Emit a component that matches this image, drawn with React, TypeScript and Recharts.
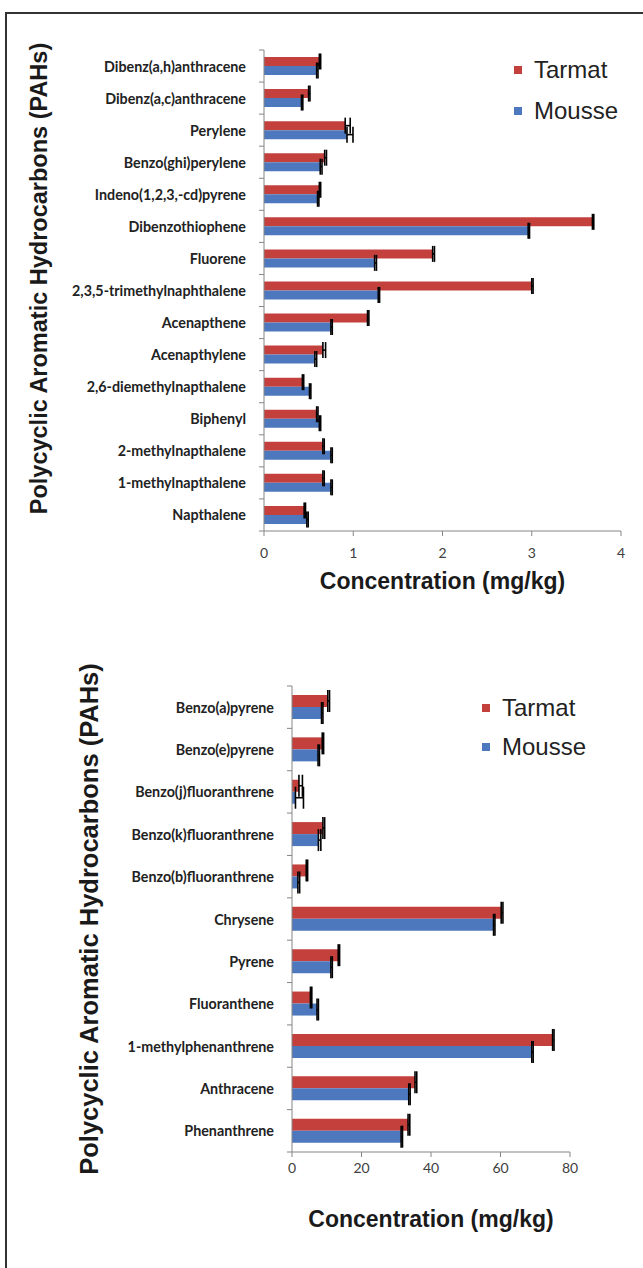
import { Bar, BarChart, ErrorBar, Label, Legend, XAxis, YAxis } from "recharts"

// upper panel, listed top to bottom
const topCategories = [
  "Dibenz(a,h)anthracene",
  "Dibenz(a,c)anthracene",
  "Perylene",
  "Benzo(ghi)perylene",
  "Indeno(1,2,3,-cd)pyrene",
  "Dibenzothiophene",
  "Fluorene",
  "2,3,5-trimethylnaphthalene",
  "Acenapthene",
  "Acenapthylene",
  "2,6-diemethylnapthalene",
  "Biphenyl",
  "2-methylnapthalene",
  "1-methylnapthalene",
  "Napthalene",
]
const topTarmat = [0.62, 0.5, 0.91, 0.68, 0.62, 3.68, 1.89, 3.0, 1.16, 0.66, 0.43, 0.59, 0.66, 0.66, 0.45]
const topMousse = [0.59, 0.42, 0.93, 0.63, 0.6, 2.96, 1.24, 1.28, 0.75, 0.57, 0.51, 0.62, 0.75, 0.75, 0.48]
// plus-only error bars, as in the original
const topTarmatErr = [0.015, 0.015, 0.056, 0.02, 0.015, 0.015, 0.02, 0.015, 0.015, 0.03, 0.015, 0.015, 0.015, 0.015, 0.015]
const topMousseErr = [0.015, 0.015, 0.067, 0.02, 0.015, 0.015, 0.02, 0.015, 0.015, 0.02, 0.015, 0.015, 0.015, 0.015, 0.015]
const topTicks = [0, 1, 2, 3, 4]

// lower panel, listed top to bottom
const bottomCategories = [
  "Benzo(a)pyrene",
  "Benzo(e)pyrene",
  "Benzo(j)fluoranthrene",
  "Benzo(k)fluoranthrene",
  "Benzo(b)fluoranthrene",
  "Chrysene",
  "Pyrene",
  "Fluoranthene",
  "1-methylphenanthrene",
  "Anthracene",
  "Phenanthrene",
]
const bottomTarmat = [10.3, 8.7, 2.0, 8.9, 4.1, 60.2, 13.3, 5.3, 75.0, 35.4, 33.4]
const bottomMousse = [8.5, 7.5, 1.0, 7.6, 1.7, 58.0, 11.2, 7.2, 69.0, 33.6, 31.4]
const bottomTarmatErr = [0.5, 0.4, 1.0, 0.5, 0.4, 0.5, 0.4, 0.4, 0.4, 0.5, 0.5]
const bottomMousseErr = [0.4, 0.4, 2.3, 0.7, 0.5, 0.4, 0.4, 0.4, 0.4, 0.4, 0.4]
const bottomTicks = [0, 20, 40, 60, 80]

const seriesOrder = ["Tarmat", "Mousse"]
const colors = {
  tarmat: "#C4403C",
  mousse: "#4E78BE",
}

const AXIS = "#868686"
const TICK_SIZE = 5
const TICK_MARGIN = 13

function buildRows(names: string[], tarmat: number[], mousse: number[], tErr: number[], mErr: number[]) {
  return names.map((name, i) => ({
    name,
    tarmat: tarmat[i],
    mousse: mousse[i],
    tarmatErr: [0, tErr[i]],
    mousseErr: [0, mErr[i]],
  }))
}

// category labels, with the tick marks drawn on the band boundaries like the original
function CategoryTick(props: any) {
  const { x, y, payload, index, bandHalf } = props
  const half = payload?.offset || bandHalf
  const ax = x + TICK_SIZE + TICK_MARGIN
  return (
    <g>
      <text
        x={x}
        y={y}
        textAnchor="end"
        dominantBaseline="central"
        fontFamily="Lato, 'Open Sans', sans-serif"
        fontWeight={700}
        fontSize={14.3}
        fill="#222"
      >
        {payload.value}
      </text>
      {index === 0 && <line x1={ax - TICK_SIZE} x2={ax} y1={y - half} y2={y - half} stroke={AXIS} />}
      <line x1={ax - TICK_SIZE} x2={ax} y1={y + half} y2={y + half} stroke={AXIS} />
    </g>
  )
}

function LegendBox(props: any) {
  const { payload, rowGap } = props
  const items = [...(payload || [])].sort(
    (a: any, b: any) => seriesOrder.indexOf(a.value) - seriesOrder.indexOf(b.value)
  )
  return (
    <div style={{ fontFamily: "'Liberation Sans', Arial, sans-serif", fontSize: 24, color: "#222" }}>
      {items.map((p: any) => (
        <div key={p.value} style={{ display: "flex", alignItems: "center", height: rowGap }}>
          <span style={{ width: 8, height: 8, background: p.color, marginRight: 12, display: "inline-block" }} />
          <span>{p.value}</span>
        </div>
      ))}
    </div>
  )
}

type PanelProps = {
  rows: ReturnType<typeof buildRows>
  ticks: number[]
  width: number
  height: number
  margin: { top: number; right: number; bottom: number; left: number }
  yAxisWidth: number
  xAxisHeight: number
  barSize: number
  yTitleX: number
  yTitleDy: number
  yTitleSize: number
  xTitleDy: number
  tickDy: number
  legendLeft: number
  legendTop: number
  legendGap: number
}

function PahPanel(p: PanelProps) {
  const plotHeight = p.height - p.margin.top - p.xAxisHeight
  const bandHalf = plotHeight / p.rows.length / 2
  return (
    <BarChart
      width={p.width}
      height={p.height}
      data={p.rows}
      layout="vertical"
      margin={p.margin}
      barGap={0}
      barSize={p.barSize}
    >
      <XAxis
        type="number"
        domain={[p.ticks[0], p.ticks[p.ticks.length - 1]]}
        ticks={p.ticks}
        height={p.xAxisHeight}
        stroke={AXIS}
        tickSize={TICK_SIZE}
        tickMargin={p.tickDy}
        tick={{ fill: "#404040", fontSize: 14, fontFamily: "Lato, sans-serif" }}
      >
        <Label
          content={(lp: any) => {
            const vb = lp.viewBox
            return (
              <text
                x={vb.x + vb.width / 2}
                y={vb.y + p.xTitleDy}
                textAnchor="middle"
                dominantBaseline="central"
                fontFamily="'Liberation Sans', Arial, sans-serif"
                fontWeight={700}
                fontSize={23}
                fill="#1a1a1a"
              >
                Concentration (mg/kg)
              </text>
            )
          }}
        />
      </XAxis>
      <YAxis
        type="category"
        dataKey="name"
        width={p.yAxisWidth}
        stroke={AXIS}
        tickLine={false}
        tickSize={TICK_SIZE}
        tickMargin={TICK_MARGIN}
        interval={0}
        tick={<CategoryTick bandHalf={bandHalf} />}
      >
        <Label
          content={(lp: any) => {
            const vb = lp.viewBox
            const cx = vb.x + p.yTitleX
            const cy = vb.y + vb.height / 2 + p.yTitleDy
            return (
              <text
                x={cx}
                y={cy}
                transform={`rotate(-90 ${cx} ${cy})`}
                textAnchor="middle"
                dominantBaseline="central"
                fontFamily="'Liberation Sans', Arial, sans-serif"
                fontWeight={700}
                fontSize={p.yTitleSize}
                fill="#1a1a1a"
              >
                Polycyclic Aromatic Hydrocarbons (PAHs)
              </text>
            )
          }}
        />
      </YAxis>
      <Legend
        layout="vertical"
        align="center"
        verticalAlign="middle"
        wrapperStyle={{ left: p.legendLeft, top: p.legendTop, width: "auto" }}
        content={(lp: any) => <LegendBox payload={lp.payload} rowGap={p.legendGap} />}
      />
      <Bar dataKey="tarmat" name="Tarmat" fill={colors.tarmat} isAnimationActive={false}>
        <ErrorBar dataKey="tarmatErr" direction="x" width={p.barSize - 1} stroke="#000" strokeWidth={1.6} />
      </Bar>
      <Bar dataKey="mousse" name="Mousse" fill={colors.mousse} isAnimationActive={false}>
        <ErrorBar dataKey="mousseErr" direction="x" width={p.barSize - 1} stroke="#000" strokeWidth={1.6} />
      </Bar>
    </BarChart>
  )
}

export default function App() {
  const topRows = buildRows(topCategories, topTarmat, topMousse, topTarmatErr, topMousseErr)
  const bottomRows = buildRows(bottomCategories, bottomTarmat, bottomMousse, bottomTarmatErr, bottomMousseErr)
  return (
    <div
      style={{
        position: "absolute",
        left: 0,
        top: 0,
        width: 643,
        height: 1268,
        overflow: "hidden",
        background: "#fff",
      }}
    >
      <div
        style={{
          position: "absolute",
          left: 5,
          top: 12,
          width: 700,
          height: 1300,
          border: "2px solid #333",
        }}
      />
      <div style={{ position: "absolute", left: 0, top: 0 }}>
        <PahPanel
          rows={topRows}
          ticks={topTicks}
          width={643}
          height={600}
          margin={{ top: 50, right: 22, bottom: 0, left: 0 }}
          yAxisWidth={264}
          xAxisHeight={69}
          barSize={9}
          yTitleX={39}
          yTitleDy={-12}
          yTitleSize={23.5}
          xTitleDy={50}
          tickDy={12}
          legendLeft={514}
          legendTop={49}
          legendGap={41}
        />
      </div>
      <div style={{ position: "absolute", left: 0, top: 620 }}>
        <PahPanel
          rows={bottomRows}
          ticks={bottomTicks}
          width={643}
          height={620}
          margin={{ top: 66, right: 73, bottom: 0, left: 0 }}
          yAxisWidth={292}
          xAxisHeight={88}
          barSize={12}
          yTitleX={89}
          yTitleDy={0}
          yTitleSize={25.5}
          xTitleDy={67}
          tickDy={6}
          legendLeft={482}
          legendTop={68}
          legendGap={39}
        />
      </div>
    </div>
  )
}
